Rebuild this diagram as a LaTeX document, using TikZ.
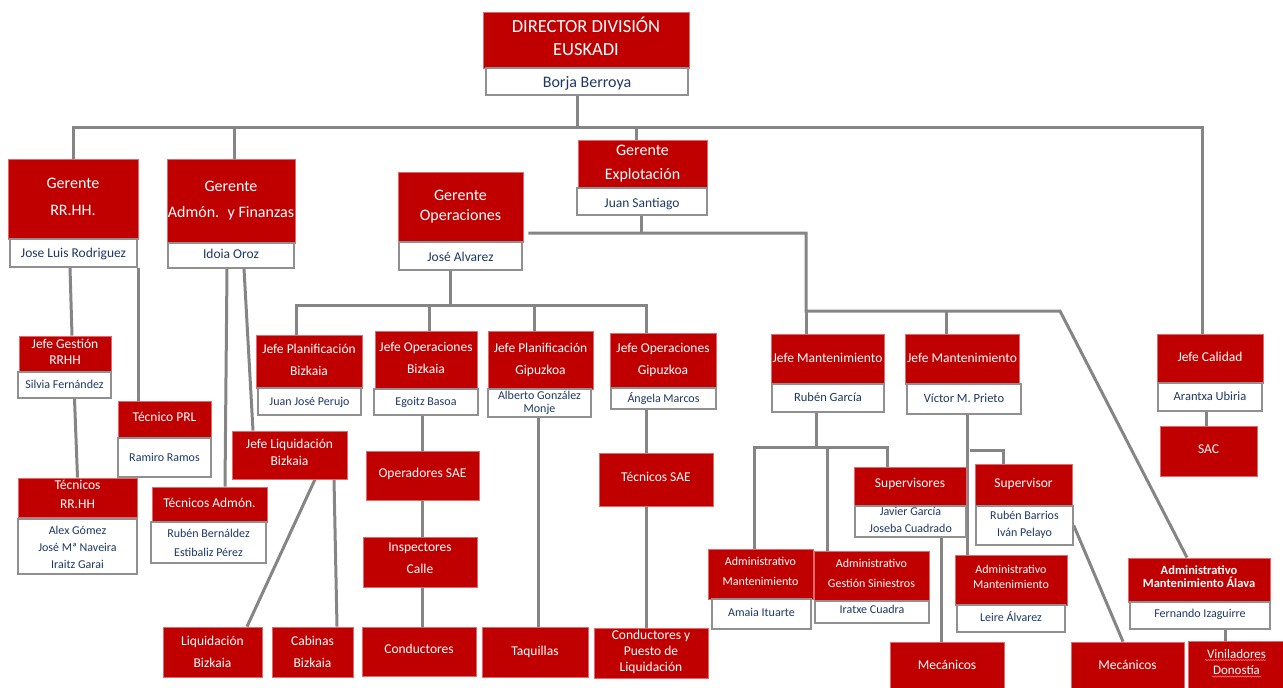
\documentclass[tikz,border=0pt]{standalone}
\usepackage{fontspec}
\setmainfont{Carlito}
\usetikzlibrary{fit,backgrounds,decorations.pathmorphing}
\definecolor{boxred}{HTML}{C00000}
\definecolor{navyname}{HTML}{1F3864}
\definecolor{linegray}{HTML}{858585}
\definecolor{bordergray}{HTML}{909090}
\definecolor{redborder}{HTML}{E06A6A}
\definecolor{spellred}{HTML}{FF7070}
\newcommand\fsz[2]{\fontsize{#1}{#2}\selectfont}
% #1 kind (r/w), #2 name, #3 #4 corners, #5 upward shift of text (pt), #6 text options, #7 text
\newcommand\orgbox[7]{%
  \node[#1box, fit={#3 #4}] (#2) {};
  \node[#1txt, #6] (#2t) at ([yshift=#5pt]#2.center) {#7};}
\tikzset{
  rbox/.style={fill=boxred, draw=redborder, line width=0.8pt, inner sep=0pt},
  wbox/.style={fill=white, draw=bordergray, line width=1.5pt, inner sep=0pt},
  rtxt/.style={inner sep=0pt, align=center, text=white, font=\fsz{13.5}{22}},
  wtxt/.style={inner sep=0pt, align=center, text=navyname, font=\fsz{12}{17}},
  conn/.style={draw=linegray, line width=3pt},
  spell/.style={draw=spellred, line width=0.6pt, decorate, decoration={snake, amplitude=0.6pt, segment length=2.5pt}}
}
\begin{document}
\begin{tikzpicture}[x=1pt,y=-1pt]
\useasboundingbox (0,0) rectangle (1283,688);
% top
\orgbox{r}{dir}{(483,12)}{(689,68)}{4}{font=\fsz{18.5}{23}}{DIRECTOR DIVISIÓN\\EUSKADI}
\orgbox{w}{dirn}{(486,68)}{(688,95)}{-2}{font=\fsz{16}{20}}{Borja Berroya}
% gerentes
\orgbox{r}{rrhh}{(8,159)}{(138,239)}{2}{font=\fsz{16}{27}}{Gerente\\RR.HH.}
\orgbox{w}{rrhhn}{(10,239)}{(137,267)}{-1}{font=\fsz{13.5}{17}}{Jose Luis Rodriguez}
\orgbox{r}{adm}{(167,159)}{(295,243)}{0}{font=\fsz{16}{26}}{Gerente\\Admón.~ y Finanzas}
\orgbox{w}{admn}{(168,243)}{(294,268)}{1.5}{font=\fsz{13.5}{17}}{Idoia Oroz}
\orgbox{r}{exp}{(578,140)}{(707,188)}{0}{font=\fsz{16}{24}}{Gerente\\Explotación}
\orgbox{w}{expn}{(577,188)}{(707,215)}{-2}{font=\fsz{13.5}{17}}{Juan Santiago}
\orgbox{r}{ops}{(398,172)}{(523,242)}{0}{font=\fsz{16}{20}}{Gerente\\Operaciones}
\orgbox{w}{opsn}{(399,242)}{(522,270)}{-0.5}{font=\fsz{13.5}{17}}{José Alvarez}
% operaciones
\orgbox{r}{jpb}{(256,335)}{(362,388)}{1.5}{}{Jefe Planificación\\Bizkaia}
\orgbox{w}{jpbn}{(258,388)}{(361,415)}{-1}{}{Juan José Perujo}
\orgbox{r}{job}{(375,331)}{(477,389)}{2.5}{}{Jefe Operaciones\\Bizkaia}
\orgbox{w}{jobn}{(374,389)}{(478,415)}{-0.5}{}{Egoitz Basoa}
\orgbox{r}{jpg}{(488,331)}{(593,389)}{0.5}{}{Jefe Planificación\\Gipuzkoa}
\orgbox{w}{jpgn}{(488,389)}{(591,417)}{0.5}{font=\fsz{12}{13}}{Alberto González\\Monje}
\orgbox{r}{jog}{(610,333)}{(716,388)}{0.5}{}{Jefe Operaciones\\Gipuzkoa}
\orgbox{w}{jogn}{(611,388)}{(716,409)}{-0.5}{}{Ángela Marcos}
\orgbox{r}{osae}{(366,451)}{(479,500)}{1.5}{}{Operadores SAE}
\orgbox{r}{insp}{(363,537)}{(477,587)}{3.5}{}{Inspectores\\Calle}
\orgbox{r}{cond}{(362,627)}{(476,676)}{2.5}{}{Conductores}
\orgbox{r}{taq}{(482,627)}{(588,677)}{0.5}{}{Taquillas}
\orgbox{r}{tsae}{(599,453)}{(713,506)}{2.5}{}{Técnicos SAE}
\orgbox{r}{cpl}{(594,628)}{(708,678)}{1.5}{font=\fsz{13.5}{16}}{Conductores y\\Puesto de\\Liquidación}
% rrhh / admon
\orgbox{r}{jgr}{(19,336)}{(111,372)}{2.5}{font=\fsz{13.5}{16}}{Jefe Gestión\\RRHH}
\orgbox{w}{jgrn}{(18,372)}{(111,398)}{0.5}{}{Silvia Fernández}
\orgbox{r}{tprl}{(118,401)}{(211,438)}{2.5}{}{Técnico PRL}
\orgbox{w}{tprln}{(118,438)}{(211,477)}{0.5}{}{Ramiro Ramos}
\orgbox{r}{trr}{(18,478)}{(137,517)}{3}{font=\fsz{13.5}{19}}{Técnicos\\RR.HH}
\orgbox{w}{trrn}{(18,519)}{(137,574)}{-0.5}{}{Alex Gómez\\José Mª Naveira\\Iraitz Garai}
\orgbox{r}{tad}{(152,487)}{(267,522)}{1.5}{}{Técnicos Admón.}
\orgbox{w}{tadn}{(151,522)}{(266,563)}{-0.5}{font=\fsz{12}{19}}{Rubén Bernáldez\\Estibaliz Pérez}
\orgbox{r}{jlq}{(232,431)}{(347,479)}{2.5}{font=\fsz{13.5}{17}}{Jefe Liquidación\\Bizkaia}
\orgbox{r}{liq}{(163,627)}{(262,677)}{0.5}{}{Liquidación\\Bizkaia}
\orgbox{r}{cab}{(272,627)}{(353,677)}{0.5}{}{Cabinas\\Bizkaia}
% mantenimiento
\orgbox{r}{jm1}{(771,334)}{(884,384)}{1.5}{}{Jefe Mantenimiento}
\orgbox{w}{jm1n}{(772,384)}{(884,412)}{0.5}{font=\fsz{12.5}{17}}{Rubén García}
\orgbox{r}{jm2}{(905,334)}{(1019,384)}{1.5}{}{Jefe Mantenimiento}
\orgbox{w}{jm2n}{(907,384)}{(1021,414)}{0.5}{font=\fsz{12.5}{17}}{Víctor M. Prieto}
\orgbox{r}{cal}{(1157,334)}{(1263,383)}{1.5}{}{Jefe Calidad}
\orgbox{w}{caln}{(1158,383)}{(1262,411)}{0.5}{font=\fsz{12.5}{17}}{Arantxa Ubiria}
\orgbox{r}{sac}{(1160,426)}{(1257,476)}{1.5}{}{SAC}
\orgbox{r}{am1}{(708,549)}{(813,599)}{2.5}{font=\fsz{12}{20}}{Administrativo\\Mantenimiento}
\orgbox{w}{am1n}{(712,599)}{(811,629)}{1.5}{}{Amaia Ituarte}
\orgbox{r}{ags}{(814,551)}{(929,601)}{2.5}{font=\fsz{12}{20}}{Administrativo\\Gestión Siniestros}
\orgbox{w}{agsn}{(815,601)}{(929,623)}{2.5}{}{Iratxe Cuadra}
\orgbox{r}{sups}{(854,467)}{(966,506)}{2.5}{}{Supervisores}
\orgbox{w}{supsn}{(855,506)}{(966,537)}{1.5}{}{Javier García\\Joseba Cuadrado}
\orgbox{r}{sup}{(975,464)}{(1072,506)}{1.5}{}{Supervisor}
\orgbox{w}{supn}{(976,506)}{(1073,545)}{0.5}{}{Rubén Barrios\\Iván Pelayo}
\orgbox{r}{am2}{(955,555)}{(1067,605)}{3.5}{font=\fsz{12}{15}}{Administrativo\\Mantenimiento}
\orgbox{w}{am2n}{(957,605)}{(1065,632)}{1.5}{}{Leire Álvarez}
\orgbox{r}{mec1}{(890,642)}{(1004,690)}{1.5}{}{Mecánicos}
\orgbox{r}{mec2}{(1071,642)}{(1184,690)}{1.5}{}{Mecánicos}
\orgbox{r}{alv}{(1128,558)}{(1270,602)}{3}{font=\bfseries\fsz{12.5}{13}}{Administrativo\\Mantenimiento Álava}
\orgbox{w}{alvn}{(1130,602)}{(1270,629)}{1.5}{}{Fernando Izaguirre}
\orgbox{r}{vin}{(1188,641)}{(1285,690)}{3}{font=\fsz{13}{16}}{Viniladores\\Donostía}
% spell-check marks under Viniladores Donostía
\draw[spell] (1205,660) -- (1266,660);
\draw[spell] (1212,676.5) -- (1261,676.5);
% connectors
\coordinate (b1) at (0,127);
\coordinate (b2) at (0,233);
\coordinate (b3) at (0,311);
\coordinate (b4) at (0,305);
\coordinate (b5) at (0,447);
\coordinate (b6) at (0,450);
\coordinate (calx) at (1202,0);
\coordinate (mx) at (806,0);
\coordinate (m2x) at (946,0);
\coordinate (dg) at (1060,311);
\begin{pgfonlayer}{background}
\draw[conn] ([xshift=-10pt]dirn.south) -- ([xshift=-10pt]dirn.south |- b1);
\draw[conn] (rrhh.north) |- (calx |- b1) -- (cal.north -| calx);
\draw[conn] ([xshift=3pt]adm.north) -- ([xshift=3pt]adm.north |- b1);
\draw[conn] ([xshift=-6pt]exp.north) -- ([xshift=-6pt]exp.north |- b1);
\draw[conn] ([xshift=-1pt]expn.south) -- ([xshift=-1pt]expn.south |- b2);
\draw[conn] ([xshift=5pt]ops.east |- b2) -| (mx |- b3) -- (dg) -- ([xshift=-12pt]alv.north);
\draw[conn] (mx |- b3) -- (jm1.north -| mx);
\draw[conn] (m2x |- b3) -- (jm2.north -| m2x);
\draw[conn] ([xshift=-10pt]opsn.south) -- ([xshift=-10pt]opsn.south |- b4);
\draw[conn] ([xshift=-13pt]jpb.north) |- ([xshift=-17pt]jog.north |- b4) -- ([xshift=-17pt]jog.north);
\draw[conn] ([xshift=3pt]job.north) -- ([xshift=3pt]job.north |- b4);
\draw[conn] ([xshift=-6.5pt]jpg.north) -- ([xshift=-6.5pt]jpg.north |- b4);
\draw[conn] ([xshift=-3.5pt]rrhhn.south) -- ([xshift=7pt]jgr.north);
\draw[conn] ([xshift=1pt]rrhhn.south east) -- ([xshift=1pt]rrhhn.south east |- tprl.north);
\draw[conn] ([xshift=10pt]jgrn.south) -- (trr.north);
\draw[conn] ([xshift=-4pt]admn.south) -- ([xshift=15.5pt]tad.north);
\draw[conn] ([xshift=13pt]admn.south) -- ([xshift=-36.5pt]jlq.north);
\draw[conn] ([xshift=25.5pt]jlq.south) -- ([xshift=34.5pt]liq.north);
\draw[conn] ([xshift=44.5pt]jlq.south) -- ([xshift=24.5pt]cab.north);
\draw[conn] ([xshift=-4pt]jobn.south) -- ([xshift=-4pt]jobn.south |- osae.north);
\draw[conn] ([xshift=-4pt]jobn.south |- osae.south) -- ([xshift=-4pt]jobn.south |- insp.north);
\draw[conn] ([xshift=-4pt]jobn.south |- insp.south) -- ([xshift=-4pt]jobn.south |- cond.north);
\draw[conn] ([xshift=-1.5pt]jpgn.south) -- ([xshift=-1.5pt]jpgn.south |- taq.north);
\draw[conn] ([xshift=-17.5pt]jogn.south) -- ([xshift=-17.5pt]jogn.south |- tsae.north);
\draw[conn] ([xshift=-17.5pt]jogn.south |- tsae.south) -- ([xshift=-17.5pt]jogn.south |- cpl.north);
\draw[conn] ([xshift=-12pt]jm1n.south) -- ([xshift=-12pt]jm1n.south |- b5);
\draw[conn] ([xshift=-6.5pt]am1.north) |- ([xshift=-23pt]sups.north |- b5) -- ([xshift=-23pt]sups.north);
\draw[conn] ([xshift=-44.5pt]ags.north) -- ([xshift=-44.5pt]ags.north |- b5);
\draw[conn] ([xshift=3pt]jm2n.south) -- ([xshift=3pt]jm2n.south |- am2.north);
\draw[conn] ([xshift=6pt]jm2n.south |- b6) -| ([xshift=-20.5pt]sup.north);
\draw[conn] ([xshift=30.5pt]supsn.south) -- ([xshift=30.5pt]supsn.south |- mec1.north);
\draw[conn] (supn.east) -- ([xshift=-4.5pt]mec2.north);
\draw[conn] ([xshift=-4pt]caln.south) -- ([xshift=-4pt]caln.south |- sac.north);
\draw[conn] ([xshift=25pt]alvn.south) -- ([xshift=25pt]alvn.south |- vin.north);
\end{pgfonlayer}
\end{tikzpicture}
\end{document}
